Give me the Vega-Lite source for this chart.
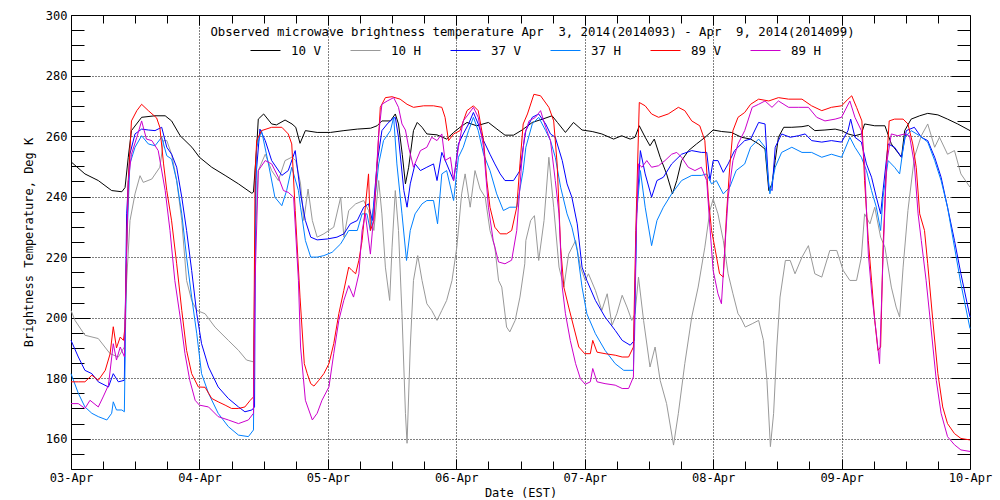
{
  "$schema": "https://vega.github.io/schema/vega-lite/v6.json",
  "width": 899,
  "height": 454,
  "autosize": {"type": "none"},
  "padding": {"left": 71, "top": 15, "right": 30, "bottom": 31},
  "background": "white",
  "title": {
    "text": "Observed microwave brightness temperature Apr\u00a0 3, 2014(2014093) - Apr\u00a0 9, 2014(2014099)",
    "font": "DejaVu Sans Mono",
    "fontSize": 12.3,
    "fontWeight": "normal",
    "color": "black",
    "anchor": "middle",
    "frame": "group",
    "baseline": "alphabetic",
    "offset": -20,
    "dy": 19,
    "dx": 12
  },
  "config": {
    "view": {"stroke": "black", "strokeWidth": 1},
    "axis": {
      "labelFont": "DejaVu Sans Mono",
      "labelFontSize": 12,
      "labelColor": "black",
      "titleFont": "DejaVu Sans Mono",
      "titleFontSize": 12,
      "titleFontWeight": "normal",
      "titleColor": "black",
      "tickColor": "black",
      "domain": false,
      "labelOverlap": false,
      "labelFlush": false
    }
  },
  "data": {
    "values": [
      {"s":"10 V","h":0,"v":251.5},{"s":"10 V","h":2.6,"v":247.5},{"s":"10 V","h":5.1,"v":245.3},{"s":"10 V","h":7.6,"v":242},{"s":"10 V","h":9.5,"v":241.6},{"s":"10 V","h":10.1,"v":243},{"s":"10 V","h":10.7,"v":253},{"s":"10 V","h":11.3,"v":261.8},{"s":"10 V","h":13.2,"v":266.2},{"s":"10 V","h":15.7,"v":266.7},{"s":"10 V","h":17.6,"v":266.7},{"s":"10 V","h":18.8,"v":265},{"s":"10 V","h":20.4,"v":260.1},{"s":"10 V","h":22.6,"v":256.3},{"s":"10 V","h":24,"v":253},{"s":"10 V","h":26.3,"v":249.7},{"s":"10 V","h":28.8,"v":247},{"s":"10 V","h":31.3,"v":244.2},{"s":"10 V","h":33.8,"v":241.1},{"s":"10 V","h":34.1,"v":241.5},{"s":"10 V","h":34.7,"v":256.3},{"s":"10 V","h":35,"v":265.6},{"s":"10 V","h":36,"v":267.3},{"s":"10 V","h":37.5,"v":264},{"s":"10 V","h":38.4,"v":263.7},{"s":"10 V","h":40,"v":265.3},{"s":"10 V","h":41.3,"v":264},{"s":"10 V","h":42,"v":262.9},{"s":"10 V","h":42.8,"v":257.6},{"s":"10 V","h":43.8,"v":261.8},{"s":"10 V","h":46,"v":261.2},{"s":"10 V","h":48.5,"v":261.2},{"s":"10 V","h":51,"v":261.8},{"s":"10 V","h":53.5,"v":262.3},{"s":"10 V","h":56,"v":262.6},{"s":"10 V","h":57.2,"v":263.4},{"s":"10 V","h":58.1,"v":265},{"s":"10 V","h":59.7,"v":265},{"s":"10 V","h":60.6,"v":267.3},{"s":"10 V","h":61.2,"v":264},{"s":"10 V","h":61.9,"v":254},{"s":"10 V","h":62.5,"v":244.2},{"s":"10 V","h":63.1,"v":249.7},{"s":"10 V","h":64,"v":261.8},{"s":"10 V","h":64.7,"v":264.5},{"s":"10 V","h":65.6,"v":262.9},{"s":"10 V","h":66.5,"v":260.7},{"s":"10 V","h":68.4,"v":260.4},{"s":"10 V","h":70.2,"v":259},{"s":"10 V","h":71.5,"v":261.2},{"s":"10 V","h":72.7,"v":262.9},{"s":"10 V","h":74,"v":264.5},{"s":"10 V","h":75.8,"v":263.4},{"s":"10 V","h":78,"v":264.5},{"s":"10 V","h":79.6,"v":262.3},{"s":"10 V","h":81.1,"v":260.3},{"s":"10 V","h":82.7,"v":260.3},{"s":"10 V","h":84.3,"v":262},{"s":"10 V","h":86.2,"v":264.5},{"s":"10 V","h":88.1,"v":265.6},{"s":"10 V","h":89.9,"v":266.7},{"s":"10 V","h":90.9,"v":264.5},{"s":"10 V","h":92.4,"v":261.2},{"s":"10 V","h":93.9,"v":264.5},{"s":"10 V","h":95.5,"v":262},{"s":"10 V","h":97.4,"v":261.5},{"s":"10 V","h":99.2,"v":260.7},{"s":"10 V","h":101.4,"v":259},{"s":"10 V","h":102.9,"v":260.1},{"s":"10 V","h":104.5,"v":259},{"s":"10 V","h":105.4,"v":259.6},{"s":"10 V","h":106.2,"v":263.4},{"s":"10 V","h":107.3,"v":259.6},{"s":"10 V","h":108.2,"v":256.8},{"s":"10 V","h":109,"v":259},{"s":"10 V","h":110.1,"v":253},{"s":"10 V","h":111.3,"v":247.5},{"s":"10 V","h":112.4,"v":240.9},{"s":"10 V","h":113.2,"v":245.3},{"s":"10 V","h":114.1,"v":251.9},{"s":"10 V","h":115.4,"v":255.2},{"s":"10 V","h":116.9,"v":257.4},{"s":"10 V","h":118.5,"v":259.6},{"s":"10 V","h":120,"v":262},{"s":"10 V","h":121.6,"v":261.5},{"s":"10 V","h":123.4,"v":261.2},{"s":"10 V","h":125.3,"v":259.6},{"s":"10 V","h":127,"v":259},{"s":"10 V","h":128.5,"v":257.4},{"s":"10 V","h":129.7,"v":255.7},{"s":"10 V","h":130.4,"v":242},{"s":"10 V","h":131,"v":244.2},{"s":"10 V","h":131.6,"v":251.9},{"s":"10 V","h":132.2,"v":259.6},{"s":"10 V","h":133.2,"v":262.9},{"s":"10 V","h":134.7,"v":262.9},{"s":"10 V","h":136.6,"v":263.1},{"s":"10 V","h":137.8,"v":263.5},{"s":"10 V","h":139,"v":261.8},{"s":"10 V","h":140.9,"v":262},{"s":"10 V","h":142.8,"v":262.3},{"s":"10 V","h":144,"v":261.8},{"s":"10 V","h":145.2,"v":260.7},{"s":"10 V","h":146.5,"v":260.1},{"s":"10 V","h":147.7,"v":260.7},{"s":"10 V","h":148.3,"v":264},{"s":"10 V","h":150.2,"v":263.4},{"s":"10 V","h":152.1,"v":263.4},{"s":"10 V","h":153.3,"v":257.4},{"s":"10 V","h":154.5,"v":254.6},{"s":"10 V","h":155.2,"v":253},{"s":"10 V","h":155.8,"v":261.8},{"s":"10 V","h":157,"v":265.6},{"s":"10 V","h":158.6,"v":266.7},{"s":"10 V","h":160.1,"v":267.5},{"s":"10 V","h":162,"v":267},{"s":"10 V","h":163.8,"v":265.6},{"s":"10 V","h":165.7,"v":264},{"s":"10 V","h":168,"v":261.8},

      {"s":"10 H","h":0,"v":202.4},{"s":"10 H","h":0.75,"v":199.1},{"s":"10 H","h":2.6,"v":194.2},{"s":"10 H","h":5.1,"v":193.1},{"s":"10 H","h":7.3,"v":188.1},{"s":"10 H","h":8.85,"v":187},{"s":"10 H","h":9.97,"v":190.3},{"s":"10 H","h":10.4,"v":212.3},{"s":"10 H","h":11.03,"v":232.1},{"s":"10 H","h":11.96,"v":240.9},{"s":"10 H","h":12.9,"v":246.9},{"s":"10 H","h":13.5,"v":244.7},{"s":"10 H","h":15.1,"v":245.8},{"s":"10 H","h":16.6,"v":249.7},{"s":"10 H","h":17.3,"v":258.5},{"s":"10 H","h":17.9,"v":258.5},{"s":"10 H","h":18.8,"v":254},{"s":"10 H","h":19.75,"v":245.3},{"s":"10 H","h":20.7,"v":232.1},{"s":"10 H","h":21.6,"v":212.3},{"s":"10 H","h":22.55,"v":205.7},{"s":"10 H","h":23.5,"v":202.4},{"s":"10 H","h":25.05,"v":201.3},{"s":"10 H","h":26.9,"v":196.9},{"s":"10 H","h":29.4,"v":192.5},{"s":"10 H","h":31.3,"v":189.2},{"s":"10 H","h":32.8,"v":186},{"s":"10 H","h":34.1,"v":185.4},{"s":"10 H","h":34.4,"v":223.3},{"s":"10 H","h":35,"v":248.6},{"s":"10 H","h":36.3,"v":254},{"s":"10 H","h":37.5,"v":248.6},{"s":"10 H","h":38.75,"v":245.3},{"s":"10 H","h":40,"v":251.9},{"s":"10 H","h":41.25,"v":253},{"s":"10 H","h":42,"v":251.9},{"s":"10 H","h":42.9,"v":244.2},{"s":"10 H","h":43.5,"v":232.1},{"s":"10 H","h":44.3,"v":242.5},{"s":"10 H","h":45.1,"v":232.1},{"s":"10 H","h":46,"v":226.6},{"s":"10 H","h":47.25,"v":227.7},{"s":"10 H","h":49.1,"v":229.9},{"s":"10 H","h":50.4,"v":239.8},{"s":"10 H","h":51,"v":226.6},{"s":"10 H","h":51.9,"v":235.4},{"s":"10 H","h":53.2,"v":237.6},{"s":"10 H","h":54.7,"v":238.7},{"s":"10 H","h":55.6,"v":235.4},{"s":"10 H","h":56.6,"v":228.8},{"s":"10 H","h":57.5,"v":245.3},{"s":"10 H","h":58.1,"v":234.3},{"s":"10 H","h":58.75,"v":216.7},{"s":"10 H","h":59.55,"v":205.7},{"s":"10 H","h":60,"v":223.3},{"s":"10 H","h":60.6,"v":242},{"s":"10 H","h":61.2,"v":228.8},{"s":"10 H","h":61.85,"v":201.3},{"s":"10 H","h":62.5,"v":168.4},{"s":"10 H","h":62.8,"v":158.5},{"s":"10 H","h":63.4,"v":190.3},{"s":"10 H","h":64,"v":212.3},{"s":"10 H","h":64.8,"v":220.5},{"s":"10 H","h":65.6,"v":212.3},{"s":"10 H","h":66.5,"v":204.6},{"s":"10 H","h":67.4,"v":202.4},{"s":"10 H","h":68.4,"v":199.1},{"s":"10 H","h":69.3,"v":202.4},{"s":"10 H","h":70.2,"v":205.7},{"s":"10 H","h":71.2,"v":212.3},{"s":"10 H","h":72.1,"v":223.3},{"s":"10 H","h":73,"v":240.9},{"s":"10 H","h":73.65,"v":247.5},{"s":"10 H","h":74.6,"v":236.5},{"s":"10 H","h":75.5,"v":248.6},{"s":"10 H","h":76.45,"v":242.5},{"s":"10 H","h":77.4,"v":239.8},{"s":"10 H","h":78.3,"v":228.8},{"s":"10 H","h":79.2,"v":223.3},{"s":"10 H","h":79.9,"v":212.3},{"s":"10 H","h":80.5,"v":210.1},{"s":"10 H","h":81.4,"v":196.9},{"s":"10 H","h":82,"v":195.3},{"s":"10 H","h":83,"v":199.1},{"s":"10 H","h":83.9,"v":206.8},{"s":"10 H","h":84.8,"v":217.8},{"s":"10 H","h":85,"v":225.5},{"s":"10 H","h":85.9,"v":232.1},{"s":"10 H","h":86.6,"v":233.7},{"s":"10 H","h":87.4,"v":218.9},{"s":"10 H","h":88.4,"v":232.1},{"s":"10 H","h":89.3,"v":253},{"s":"10 H","h":90.2,"v":236.5},{"s":"10 H","h":91.2,"v":216.7},{"s":"10 H","h":92.1,"v":210.1},{"s":"10 H","h":93,"v":221},{"s":"10 H","h":94.3,"v":225.5},{"s":"10 H","h":95.2,"v":216.7},{"s":"10 H","h":96.1,"v":212.3},{"s":"10 H","h":96.7,"v":214.5},{"s":"10 H","h":98,"v":209},{"s":"10 H","h":99.2,"v":202.4},{"s":"10 H","h":100.2,"v":207.9},{"s":"10 H","h":101.1,"v":197.5},{"s":"10 H","h":102,"v":201.3},{"s":"10 H","h":103,"v":207.4},{"s":"10 H","h":103.9,"v":203.5},{"s":"10 H","h":104.8,"v":199.1},{"s":"10 H","h":105.4,"v":201.3},{"s":"10 H","h":106.05,"v":213.4},{"s":"10 H","h":107,"v":199.1},{"s":"10 H","h":108.2,"v":183.7},{"s":"10 H","h":109.15,"v":190.3},{"s":"10 H","h":110.1,"v":179.3},{"s":"10 H","h":111.3,"v":171.6},{"s":"10 H","h":112.6,"v":157.9},{"s":"10 H","h":113.5,"v":168.4},{"s":"10 H","h":114.7,"v":184.8},{"s":"10 H","h":116,"v":200.2},{"s":"10 H","h":117.2,"v":210.1},{"s":"10 H","h":118.45,"v":223.3},{"s":"10 H","h":119.4,"v":235.4},{"s":"10 H","h":120,"v":239.2},{"s":"10 H","h":120.9,"v":234.3},{"s":"10 H","h":121.9,"v":225.5},{"s":"10 H","h":122.8,"v":214.5},{"s":"10 H","h":123.7,"v":207.9},{"s":"10 H","h":124.65,"v":201.3},{"s":"10 H","h":125.1,"v":200.2},{"s":"10 H","h":126,"v":196.9},{"s":"10 H","h":127.3,"v":198},{"s":"10 H","h":128.5,"v":199.1},{"s":"10 H","h":129.4,"v":192.5},{"s":"10 H","h":130.05,"v":179.3},{"s":"10 H","h":130.7,"v":157.4},{"s":"10 H","h":131.3,"v":168.4},{"s":"10 H","h":131.9,"v":190.3},{"s":"10 H","h":132.5,"v":206.8},{"s":"10 H","h":133.5,"v":218.9},{"s":"10 H","h":134.4,"v":218.9},{"s":"10 H","h":135.3,"v":214.5},{"s":"10 H","h":136.6,"v":220},{"s":"10 H","h":137.8,"v":223.8},{"s":"10 H","h":139,"v":214.5},{"s":"10 H","h":140.3,"v":213.4},{"s":"10 H","h":141.8,"v":222.2},{"s":"10 H","h":143.1,"v":222.2},{"s":"10 H","h":144.3,"v":215.6},{"s":"10 H","h":145.55,"v":212.3},{"s":"10 H","h":146.8,"v":212.3},{"s":"10 H","h":147.7,"v":220},{"s":"10 H","h":148.3,"v":234.3},{"s":"10 H","h":149.3,"v":231},{"s":"10 H","h":150.2,"v":236.5},{"s":"10 H","h":151.3,"v":226.6},{"s":"10 H","h":152.1,"v":223.3},{"s":"10 H","h":153.3,"v":210.1},{"s":"10 H","h":154.2,"v":203.5},{"s":"10 H","h":154.85,"v":200.2},{"s":"10 H","h":155.5,"v":216.7},{"s":"10 H","h":156.4,"v":235.4},{"s":"10 H","h":157.6,"v":253},{"s":"10 H","h":158.9,"v":260.1},{"s":"10 H","h":160.1,"v":264},{"s":"10 H","h":161.4,"v":256.3},{"s":"10 H","h":162.3,"v":259.6},{"s":"10 H","h":163.8,"v":254},{"s":"10 H","h":165.1,"v":255.2},{"s":"10 H","h":166.3,"v":247.5},{"s":"10 H","h":168,"v":243.1},

      {"s":"37 V","h":0,"v":192.5},{"s":"37 V","h":1.37,"v":187},{"s":"37 V","h":2.6,"v":182.6},{"s":"37 V","h":3.9,"v":181.5},{"s":"37 V","h":5.1,"v":178.8},{"s":"37 V","h":7,"v":177.1},{"s":"37 V","h":7.9,"v":181.5},{"s":"37 V","h":8.85,"v":178.8},{"s":"37 V","h":9.97,"v":179.3},{"s":"37 V","h":10.4,"v":234.3},{"s":"37 V","h":11,"v":254},{"s":"37 V","h":11.96,"v":260.7},{"s":"37 V","h":13.2,"v":262.3},{"s":"37 V","h":14.45,"v":262},{"s":"37 V","h":15.7,"v":261.8},{"s":"37 V","h":16.95,"v":262.9},{"s":"37 V","h":17.9,"v":256.3},{"s":"37 V","h":18.8,"v":254},{"s":"37 V","h":19.75,"v":249.7},{"s":"37 V","h":20.7,"v":239.8},{"s":"37 V","h":21.6,"v":228.8},{"s":"37 V","h":22.55,"v":215.6},{"s":"37 V","h":23.5,"v":201.3},{"s":"37 V","h":24.4,"v":191.4},{"s":"37 V","h":25.7,"v":183.7},{"s":"37 V","h":27.5,"v":177.1},{"s":"37 V","h":29.4,"v":173.3},{"s":"37 V","h":31.3,"v":170.5},{"s":"37 V","h":32.5,"v":168.9},{"s":"37 V","h":33.8,"v":169.5},{"s":"37 V","h":34.3,"v":170.5},{"s":"37 V","h":34.5,"v":245.3},{"s":"37 V","h":35.3,"v":262.3},{"s":"37 V","h":36.3,"v":258.5},{"s":"37 V","h":37.5,"v":251.9},{"s":"37 V","h":39.4,"v":247},{"s":"37 V","h":40.6,"v":248.6},{"s":"37 V","h":41.9,"v":255.2},{"s":"37 V","h":42.9,"v":240.9},{"s":"37 V","h":43.8,"v":232.1},{"s":"37 V","h":44.8,"v":226.6},{"s":"37 V","h":46,"v":225.7},{"s":"37 V","h":47.9,"v":226},{"s":"37 V","h":49.7,"v":226.6},{"s":"37 V","h":51,"v":227.7},{"s":"37 V","h":52.2,"v":231},{"s":"37 V","h":53.5,"v":232.1},{"s":"37 V","h":54.7,"v":236.5},{"s":"37 V","h":55.6,"v":237.6},{"s":"37 V","h":56.3,"v":232.1},{"s":"37 V","h":57.2,"v":250.8},{"s":"37 V","h":58.1,"v":261.8},{"s":"37 V","h":59.1,"v":264},{"s":"37 V","h":60,"v":265.6},{"s":"37 V","h":60.6,"v":266.2},{"s":"37 V","h":61.2,"v":259.6},{"s":"37 V","h":62.2,"v":242},{"s":"37 V","h":62.8,"v":236.5},{"s":"37 V","h":63.4,"v":244.2},{"s":"37 V","h":64.3,"v":250.8},{"s":"37 V","h":65.3,"v":248.6},{"s":"37 V","h":66.5,"v":249.7},{"s":"37 V","h":67.75,"v":250.8},{"s":"37 V","h":68.4,"v":245.3},{"s":"37 V","h":69.3,"v":254.6},{"s":"37 V","h":70.2,"v":250.8},{"s":"37 V","h":71.5,"v":245.3},{"s":"37 V","h":72.4,"v":257.4},{"s":"37 V","h":73.3,"v":260.7},{"s":"37 V","h":74.3,"v":264},{"s":"37 V","h":75.2,"v":267.8},{"s":"37 V","h":76.1,"v":264},{"s":"37 V","h":77.1,"v":258.5},{"s":"37 V","h":78.3,"v":254},{"s":"37 V","h":79.2,"v":250.8},{"s":"37 V","h":80.2,"v":247.5},{"s":"37 V","h":81.1,"v":245.3},{"s":"37 V","h":82.7,"v":245.3},{"s":"37 V","h":83.9,"v":248.6},{"s":"37 V","h":84.5,"v":256.3},{"s":"37 V","h":85,"v":261.8},{"s":"37 V","h":86.2,"v":266.2},{"s":"37 V","h":87.4,"v":267.3},{"s":"37 V","h":88.7,"v":264},{"s":"37 V","h":89.6,"v":260.7},{"s":"37 V","h":90.5,"v":259.6},{"s":"37 V","h":91.8,"v":251.9},{"s":"37 V","h":92.7,"v":244.2},{"s":"37 V","h":93.6,"v":239.8},{"s":"37 V","h":94.6,"v":231},{"s":"37 V","h":95.5,"v":216.7},{"s":"37 V","h":96.4,"v":212.3},{"s":"37 V","h":98,"v":205.7},{"s":"37 V","h":99.8,"v":200.2},{"s":"37 V","h":101.7,"v":195.8},{"s":"37 V","h":103,"v":192.5},{"s":"37 V","h":104.5,"v":190.9},{"s":"37 V","h":105.3,"v":192.5},{"s":"37 V","h":105.7,"v":234.3},{"s":"37 V","h":106.4,"v":255.2},{"s":"37 V","h":107.3,"v":247.5},{"s":"37 V","h":108.5,"v":239.8},{"s":"37 V","h":109.5,"v":245.3},{"s":"37 V","h":110.7,"v":246.4},{"s":"37 V","h":112.25,"v":250.8},{"s":"37 V","h":114.1,"v":254},{"s":"37 V","h":116,"v":255.2},{"s":"37 V","h":117.8,"v":254.6},{"s":"37 V","h":118.8,"v":254.6},{"s":"37 V","h":119.4,"v":245.3},{"s":"37 V","h":120,"v":251.9},{"s":"37 V","h":120.9,"v":251.9},{"s":"37 V","h":121.9,"v":248},{"s":"37 V","h":122.8,"v":250.8},{"s":"37 V","h":124,"v":255.2},{"s":"37 V","h":125.9,"v":258.5},{"s":"37 V","h":127,"v":259},{"s":"37 V","h":128.5,"v":264.5},{"s":"37 V","h":129.7,"v":264},{"s":"37 V","h":130.4,"v":243.1},{"s":"37 V","h":131,"v":242},{"s":"37 V","h":131.6,"v":256.3},{"s":"37 V","h":132.8,"v":260.7},{"s":"37 V","h":134.4,"v":259.6},{"s":"37 V","h":135.9,"v":260.1},{"s":"37 V","h":137.2,"v":260.7},{"s":"37 V","h":138.4,"v":258.5},{"s":"37 V","h":140.3,"v":258},{"s":"37 V","h":142.1,"v":258.5},{"s":"37 V","h":144,"v":258},{"s":"37 V","h":145.2,"v":261.8},{"s":"37 V","h":145.7,"v":265.6},{"s":"37 V","h":146.5,"v":259.6},{"s":"37 V","h":147.7,"v":258},{"s":"37 V","h":148.65,"v":250.8},{"s":"37 V","h":149.6,"v":246.4},{"s":"37 V","h":150.5,"v":239.8},{"s":"37 V","h":151.3,"v":234.3},{"s":"37 V","h":151.75,"v":242},{"s":"37 V","h":152.7,"v":257.4},{"s":"37 V","h":153.9,"v":256.3},{"s":"37 V","h":155.2,"v":253},{"s":"37 V","h":156.1,"v":261.8},{"s":"37 V","h":157.6,"v":262.9},{"s":"37 V","h":158.9,"v":259.6},{"s":"37 V","h":160.1,"v":258.5},{"s":"37 V","h":161.4,"v":253},{"s":"37 V","h":162.6,"v":246.4},{"s":"37 V","h":163.8,"v":236.5},{"s":"37 V","h":165.1,"v":225.5},{"s":"37 V","h":166.3,"v":214.5},{"s":"37 V","h":168,"v":200.2},

      {"s":"37 H","h":0,"v":181.5},{"s":"37 H","h":1.37,"v":175},{"s":"37 H","h":2.6,"v":170.5},{"s":"37 H","h":3.9,"v":168.4},{"s":"37 H","h":5.1,"v":167.3},{"s":"37 H","h":6.7,"v":166.2},{"s":"37 H","h":7.6,"v":168.4},{"s":"37 H","h":7.9,"v":172.2},{"s":"37 H","h":8.5,"v":169.5},{"s":"37 H","h":9.5,"v":169.5},{"s":"37 H","h":9.97,"v":168.9},{"s":"37 H","h":10.4,"v":223.3},{"s":"37 H","h":11,"v":250.8},{"s":"37 H","h":11.96,"v":256.3},{"s":"37 H","h":13.2,"v":260.1},{"s":"37 H","h":14.45,"v":257.4},{"s":"37 H","h":15.7,"v":256.8},{"s":"37 H","h":16.95,"v":259.6},{"s":"37 H","h":17.9,"v":253.5},{"s":"37 H","h":18.8,"v":252.4},{"s":"37 H","h":19.75,"v":245.3},{"s":"37 H","h":20.7,"v":234.3},{"s":"37 H","h":21.6,"v":220},{"s":"37 H","h":22.55,"v":206.8},{"s":"37 H","h":23.5,"v":194.7},{"s":"37 H","h":24.4,"v":181.5},{"s":"37 H","h":25.7,"v":175},{"s":"37 H","h":27.5,"v":168.4},{"s":"37 H","h":29.4,"v":164},{"s":"37 H","h":31.3,"v":161.2},{"s":"37 H","h":33.15,"v":160.7},{"s":"37 H","h":34.1,"v":162.9},{"s":"37 H","h":34.4,"v":223.3},{"s":"37 H","h":34.7,"v":256.3},{"s":"37 H","h":35.6,"v":261.8},{"s":"37 H","h":36.9,"v":250.8},{"s":"37 H","h":38.1,"v":239.8},{"s":"37 H","h":39.4,"v":237},{"s":"37 H","h":40.3,"v":242},{"s":"37 H","h":41.25,"v":249.7},{"s":"37 H","h":42.5,"v":242},{"s":"37 H","h":42.9,"v":236.5},{"s":"37 H","h":43.8,"v":225.5},{"s":"37 H","h":44.8,"v":220},{"s":"37 H","h":46,"v":220},{"s":"37 H","h":47.25,"v":220.5},{"s":"37 H","h":48.8,"v":221.6},{"s":"37 H","h":50.4,"v":224.4},{"s":"37 H","h":51.9,"v":228.8},{"s":"37 H","h":53.5,"v":228.8},{"s":"37 H","h":54.4,"v":234.3},{"s":"37 H","h":55.3,"v":234.3},{"s":"37 H","h":55.95,"v":228.8},{"s":"37 H","h":56.9,"v":240.9},{"s":"37 H","h":57.5,"v":250.8},{"s":"37 H","h":58.4,"v":258.5},{"s":"37 H","h":59.7,"v":261.8},{"s":"37 H","h":60.3,"v":266.2},{"s":"37 H","h":60.9,"v":250.8},{"s":"37 H","h":61.85,"v":234.3},{"s":"37 H","h":62.7,"v":218.9},{"s":"37 H","h":63.4,"v":228.8},{"s":"37 H","h":64.3,"v":234.3},{"s":"37 H","h":65.6,"v":237.6},{"s":"37 H","h":66.5,"v":238.7},{"s":"37 H","h":67.75,"v":238.7},{"s":"37 H","h":68.5,"v":231},{"s":"37 H","h":69.3,"v":247.5},{"s":"37 H","h":70.2,"v":248.6},{"s":"37 H","h":71.5,"v":238.7},{"s":"37 H","h":72.4,"v":253},{"s":"37 H","h":73.3,"v":256.3},{"s":"37 H","h":74.3,"v":261.8},{"s":"37 H","h":75.2,"v":266.2},{"s":"37 H","h":76.1,"v":261.8},{"s":"37 H","h":77.1,"v":254},{"s":"37 H","h":78.3,"v":248.6},{"s":"37 H","h":79.55,"v":240.9},{"s":"37 H","h":80.8,"v":235.4},{"s":"37 H","h":82,"v":236.5},{"s":"37 H","h":83.3,"v":236.5},{"s":"37 H","h":84.5,"v":248.6},{"s":"37 H","h":85,"v":256.3},{"s":"37 H","h":86.2,"v":264},{"s":"37 H","h":87.4,"v":266.2},{"s":"37 H","h":88.7,"v":261.8},{"s":"37 H","h":89.6,"v":258.5},{"s":"37 H","h":90.5,"v":253},{"s":"37 H","h":91.5,"v":243.1},{"s":"37 H","h":92.7,"v":234.3},{"s":"37 H","h":93.6,"v":229.9},{"s":"37 H","h":94.6,"v":222.2},{"s":"37 H","h":95.5,"v":210.1},{"s":"37 H","h":96.4,"v":201.3},{"s":"37 H","h":98,"v":194.7},{"s":"37 H","h":99.8,"v":189.2},{"s":"37 H","h":101.7,"v":184.8},{"s":"37 H","h":103.3,"v":182.6},{"s":"37 H","h":105.1,"v":182.6},{"s":"37 H","h":105.7,"v":234.3},{"s":"37 H","h":106.4,"v":248.6},{"s":"37 H","h":107.3,"v":236.5},{"s":"37 H","h":108.5,"v":223.8},{"s":"37 H","h":109.5,"v":232.1},{"s":"37 H","h":110.7,"v":236.5},{"s":"37 H","h":112.25,"v":240.9},{"s":"37 H","h":114.1,"v":245.3},{"s":"37 H","h":116,"v":247},{"s":"37 H","h":117.8,"v":247},{"s":"37 H","h":118.8,"v":247.5},{"s":"37 H","h":119.7,"v":244.2},{"s":"37 H","h":120.6,"v":245.3},{"s":"37 H","h":121.9,"v":240.9},{"s":"37 H","h":123.1,"v":243.1},{"s":"37 H","h":124.3,"v":248.6},{"s":"37 H","h":125.9,"v":250.8},{"s":"37 H","h":127,"v":256.3},{"s":"37 H","h":128.5,"v":259},{"s":"37 H","h":129.7,"v":256.3},{"s":"37 H","h":130.6,"v":240.9},{"s":"37 H","h":131.6,"v":249.7},{"s":"37 H","h":132.8,"v":254.6},{"s":"37 H","h":134.7,"v":256.3},{"s":"37 H","h":136.6,"v":254.6},{"s":"37 H","h":138.4,"v":254.6},{"s":"37 H","h":140.3,"v":253},{"s":"37 H","h":142.1,"v":254},{"s":"37 H","h":144,"v":253},{"s":"37 H","h":145.55,"v":259.6},{"s":"37 H","h":146.5,"v":256.3},{"s":"37 H","h":147.7,"v":253},{"s":"37 H","h":148.65,"v":248.6},{"s":"37 H","h":149.6,"v":242},{"s":"37 H","h":150.5,"v":236.5},{"s":"37 H","h":151.3,"v":228.8},{"s":"37 H","h":151.75,"v":239.8},{"s":"37 H","h":152.7,"v":251.9},{"s":"37 H","h":153.9,"v":249.7},{"s":"37 H","h":154.85,"v":247.5},{"s":"37 H","h":155.8,"v":259.6},{"s":"37 H","h":157,"v":261.8},{"s":"37 H","h":158.6,"v":260.1},{"s":"37 H","h":160.1,"v":258},{"s":"37 H","h":161.4,"v":251.9},{"s":"37 H","h":162.6,"v":245.3},{"s":"37 H","h":163.8,"v":236.5},{"s":"37 H","h":165.1,"v":223.3},{"s":"37 H","h":166.3,"v":211.2},{"s":"37 H","h":168,"v":196.4},

      {"s":"89 V","h":0,"v":178.8},{"s":"89 V","h":1.37,"v":178.8},{"s":"89 V","h":2.6,"v":178.8},{"s":"89 V","h":3.9,"v":181},{"s":"89 V","h":5.1,"v":179.3},{"s":"89 V","h":6.4,"v":182.6},{"s":"89 V","h":7.3,"v":188},{"s":"89 V","h":7.9,"v":197},{"s":"89 V","h":8.5,"v":190},{"s":"89 V","h":9.2,"v":193.6},{"s":"89 V","h":9.8,"v":192.5},{"s":"89 V","h":10.1,"v":197},{"s":"89 V","h":10.4,"v":223},{"s":"89 V","h":10.7,"v":245},{"s":"89 V","h":11.3,"v":265},{"s":"89 V","h":12.3,"v":268.4},{"s":"89 V","h":13.2,"v":270.5},{"s":"89 V","h":14.45,"v":268.4},{"s":"89 V","h":16,"v":266},{"s":"89 V","h":16.6,"v":262.9},{"s":"89 V","h":17.3,"v":250.8},{"s":"89 V","h":17.9,"v":242},{"s":"89 V","h":18.8,"v":232},{"s":"89 V","h":19.75,"v":217.8},{"s":"89 V","h":20.7,"v":202.4},{"s":"89 V","h":21.6,"v":189.2},{"s":"89 V","h":22.55,"v":181.5},{"s":"89 V","h":23.8,"v":177.1},{"s":"89 V","h":25.05,"v":177},{"s":"89 V","h":26.3,"v":173.3},{"s":"89 V","h":27.5,"v":172.2},{"s":"89 V","h":28.8,"v":171.1},{"s":"89 V","h":30,"v":170},{"s":"89 V","h":31.3,"v":170},{"s":"89 V","h":32.5,"v":170.5},{"s":"89 V","h":33.5,"v":172.7},{"s":"89 V","h":34.1,"v":173.8},{"s":"89 V","h":34.4,"v":247.5},{"s":"89 V","h":34.7,"v":258.5},{"s":"89 V","h":35.6,"v":261.8},{"s":"89 V","h":37.5,"v":262.9},{"s":"89 V","h":39.4,"v":262.9},{"s":"89 V","h":40.6,"v":260.7},{"s":"89 V","h":41.25,"v":257.4},{"s":"89 V","h":41.9,"v":235.4},{"s":"89 V","h":42.8,"v":206.8},{"s":"89 V","h":43.6,"v":184.8},{"s":"89 V","h":44.15,"v":181.5},{"s":"89 V","h":44.8,"v":178.2},{"s":"89 V","h":45.4,"v":177.4},{"s":"89 V","h":46.3,"v":179.3},{"s":"89 V","h":47.25,"v":181.5},{"s":"89 V","h":48.2,"v":184.8},{"s":"89 V","h":49.1,"v":191.4},{"s":"89 V","h":50.05,"v":201.3},{"s":"89 V","h":50.98,"v":209},{"s":"89 V","h":51.9,"v":216.7},{"s":"89 V","h":52.5,"v":215.6},{"s":"89 V","h":53.2,"v":214.5},{"s":"89 V","h":53.8,"v":219},{"s":"89 V","h":54.4,"v":225.5},{"s":"89 V","h":55,"v":236.5},{"s":"89 V","h":55.6,"v":247.5},{"s":"89 V","h":55.95,"v":228.8},{"s":"89 V","h":56.6,"v":232},{"s":"89 V","h":57.2,"v":250.8},{"s":"89 V","h":57.8,"v":269.5},{"s":"89 V","h":58.75,"v":272.7},{"s":"89 V","h":59.99,"v":273},{"s":"89 V","h":61.5,"v":272.2},{"s":"89 V","h":62.8,"v":270.5},{"s":"89 V","h":64,"v":269.5},{"s":"89 V","h":65.9,"v":270},{"s":"89 V","h":67.75,"v":270},{"s":"89 V","h":69.3,"v":269.5},{"s":"89 V","h":69.9,"v":266.2},{"s":"89 V","h":70.55,"v":258.5},{"s":"89 V","h":71.5,"v":260.7},{"s":"89 V","h":72.7,"v":261.8},{"s":"89 V","h":74,"v":268.4},{"s":"89 V","h":75.2,"v":270},{"s":"89 V","h":76.1,"v":268.4},{"s":"89 V","h":77.1,"v":258.5},{"s":"89 V","h":77.7,"v":245.3},{"s":"89 V","h":78.3,"v":236.5},{"s":"89 V","h":79.2,"v":229.9},{"s":"89 V","h":80.2,"v":227.7},{"s":"89 V","h":81.4,"v":227.7},{"s":"89 V","h":82.35,"v":228.8},{"s":"89 V","h":83.3,"v":236.5},{"s":"89 V","h":83.9,"v":250.8},{"s":"89 V","h":84.5,"v":264},{"s":"89 V","h":85.3,"v":267.3},{"s":"89 V","h":86.5,"v":273.8},{"s":"89 V","h":87.75,"v":273.3},{"s":"89 V","h":89.3,"v":269.5},{"s":"89 V","h":90.2,"v":265},{"s":"89 V","h":90.85,"v":250.8},{"s":"89 V","h":91.5,"v":223.3},{"s":"89 V","h":92.1,"v":210.1},{"s":"89 V","h":93,"v":203.5},{"s":"89 V","h":93.95,"v":196.9},{"s":"89 V","h":94.9,"v":190.3},{"s":"89 V","h":96,"v":188.1},{"s":"89 V","h":97.05,"v":188.1},{"s":"89 V","h":97.5,"v":192.5},{"s":"89 V","h":98.3,"v":188.6},{"s":"89 V","h":99.8,"v":188.1},{"s":"89 V","h":101.7,"v":187.6},{"s":"89 V","h":103,"v":187},{"s":"89 V","h":104.2,"v":187},{"s":"89 V","h":105.1,"v":190.3},{"s":"89 V","h":105.55,"v":228.8},{"s":"89 V","h":106.2,"v":271.1},{"s":"89 V","h":107.3,"v":270},{"s":"89 V","h":108.5,"v":267.3},{"s":"89 V","h":109.8,"v":266.2},{"s":"89 V","h":111.6,"v":267.3},{"s":"89 V","h":113.5,"v":269.5},{"s":"89 V","h":114.7,"v":268.4},{"s":"89 V","h":116,"v":265},{"s":"89 V","h":117.5,"v":263.4},{"s":"89 V","h":118.45,"v":258.5},{"s":"89 V","h":119.1,"v":239.8},{"s":"89 V","h":119.7,"v":228.8},{"s":"89 V","h":120.3,"v":223.3},{"s":"89 V","h":121.2,"v":214.5},{"s":"89 V","h":121.9,"v":213.4},{"s":"89 V","h":122.5,"v":234.3},{"s":"89 V","h":123.1,"v":249.7},{"s":"89 V","h":123.7,"v":261.8},{"s":"89 V","h":124.65,"v":266.2},{"s":"89 V","h":125.9,"v":267.8},{"s":"89 V","h":127,"v":270.5},{"s":"89 V","h":128.5,"v":272.2},{"s":"89 V","h":130.4,"v":271.6},{"s":"89 V","h":132.2,"v":272.7},{"s":"89 V","h":134.1,"v":272.2},{"s":"89 V","h":136.6,"v":272.2},{"s":"89 V","h":138.4,"v":270},{"s":"89 V","h":140.3,"v":268.4},{"s":"89 V","h":142.1,"v":269.5},{"s":"89 V","h":144,"v":270},{"s":"89 V","h":145.2,"v":272.2},{"s":"89 V","h":145.9,"v":273.3},{"s":"89 V","h":146.8,"v":269.5},{"s":"89 V","h":147.8,"v":265},{"s":"89 V","h":148.3,"v":245.3},{"s":"89 V","h":149,"v":225.5},{"s":"89 V","h":149.6,"v":212.3},{"s":"89 V","h":150.2,"v":199.1},{"s":"89 V","h":150.8,"v":189.2},{"s":"89 V","h":151.3,"v":190.3},{"s":"89 V","h":151.75,"v":223.3},{"s":"89 V","h":152.4,"v":250.8},{"s":"89 V","h":152.9,"v":265},{"s":"89 V","h":153.9,"v":265.6},{"s":"89 V","h":155.5,"v":265.6},{"s":"89 V","h":156.4,"v":264},{"s":"89 V","h":157.3,"v":257.4},{"s":"89 V","h":157.95,"v":249.7},{"s":"89 V","h":158.6,"v":234.3},{"s":"89 V","h":159.5,"v":228.8},{"s":"89 V","h":160.1,"v":217.8},{"s":"89 V","h":161.05,"v":199.1},{"s":"89 V","h":162,"v":181.5},{"s":"89 V","h":162.9,"v":170.5},{"s":"89 V","h":163.8,"v":165},{"s":"89 V","h":165.1,"v":161.7},{"s":"89 V","h":166.3,"v":160.1},{"s":"89 V","h":168,"v":159.6},

      {"s":"89 H","h":0,"v":171.6},{"s":"89 H","h":1.37,"v":171.6},{"s":"89 H","h":2.6,"v":170},{"s":"89 H","h":3.55,"v":172.7},{"s":"89 H","h":5.1,"v":170.5},{"s":"89 H","h":6,"v":173.8},{"s":"89 H","h":7,"v":177.7},{"s":"89 H","h":7.9,"v":191.4},{"s":"89 H","h":8.5,"v":186},{"s":"89 H","h":9.2,"v":190.3},{"s":"89 H","h":10,"v":187},{"s":"89 H","h":10.2,"v":206.8},{"s":"89 H","h":10.7,"v":245},{"s":"89 H","h":11.3,"v":254},{"s":"89 H","h":12.3,"v":259.6},{"s":"89 H","h":13.2,"v":265},{"s":"89 H","h":14.1,"v":259},{"s":"89 H","h":15.1,"v":258.5},{"s":"89 H","h":16.3,"v":255.2},{"s":"89 H","h":17.6,"v":242},{"s":"89 H","h":18.5,"v":228.8},{"s":"89 H","h":19.4,"v":212.3},{"s":"89 H","h":20.4,"v":200.2},{"s":"89 H","h":21.3,"v":188.1},{"s":"89 H","h":22.2,"v":179.3},{"s":"89 H","h":23.2,"v":172.7},{"s":"89 H","h":24,"v":171.1},{"s":"89 H","h":25.7,"v":170.5},{"s":"89 H","h":27.5,"v":167.3},{"s":"89 H","h":29.4,"v":166.2},{"s":"89 H","h":31.3,"v":165},{"s":"89 H","h":33.15,"v":166.2},{"s":"89 H","h":34.1,"v":168.4},{"s":"89 H","h":34.4,"v":212},{"s":"89 H","h":35,"v":248.6},{"s":"89 H","h":36.3,"v":251.9},{"s":"89 H","h":37.5,"v":250.8},{"s":"89 H","h":38.75,"v":246.4},{"s":"89 H","h":39.7,"v":242},{"s":"89 H","h":40.6,"v":241.4},{"s":"89 H","h":41.6,"v":239.8},{"s":"89 H","h":42.5,"v":212.3},{"s":"89 H","h":42.9,"v":190.3},{"s":"89 H","h":43.8,"v":172.7},{"s":"89 H","h":45.1,"v":166.2},{"s":"89 H","h":46,"v":168.4},{"s":"89 H","h":46.9,"v":172.7},{"s":"89 H","h":48.2,"v":177.1},{"s":"89 H","h":49.1,"v":188.1},{"s":"89 H","h":50.05,"v":199.1},{"s":"89 H","h":50.98,"v":205.7},{"s":"89 H","h":51.9,"v":210.6},{"s":"89 H","h":52.8,"v":206.8},{"s":"89 H","h":53.8,"v":214.5},{"s":"89 H","h":54.4,"v":228.8},{"s":"89 H","h":55,"v":234.3},{"s":"89 H","h":55.95,"v":221},{"s":"89 H","h":56.6,"v":234.3},{"s":"89 H","h":57.5,"v":260.7},{"s":"89 H","h":58.1,"v":270.5},{"s":"89 H","h":59.1,"v":271.6},{"s":"89 H","h":60.3,"v":272.7},{"s":"89 H","h":61.2,"v":269.5},{"s":"89 H","h":61.85,"v":264},{"s":"89 H","h":62.5,"v":262},{"s":"89 H","h":63.1,"v":256.3},{"s":"89 H","h":64,"v":249.7},{"s":"89 H","h":65.3,"v":255.2},{"s":"89 H","h":66.5,"v":256.3},{"s":"89 H","h":67.4,"v":259.6},{"s":"89 H","h":68.4,"v":258.5},{"s":"89 H","h":69.3,"v":260.7},{"s":"89 H","h":69.9,"v":251.9},{"s":"89 H","h":70.9,"v":253},{"s":"89 H","h":71.5,"v":245.3},{"s":"89 H","h":72.4,"v":256.3},{"s":"89 H","h":73.3,"v":265},{"s":"89 H","h":74.3,"v":267.3},{"s":"89 H","h":75.2,"v":269.5},{"s":"89 H","h":76.1,"v":266.2},{"s":"89 H","h":77.1,"v":256.3},{"s":"89 H","h":78,"v":236.5},{"s":"89 H","h":78.9,"v":225.5},{"s":"89 H","h":79.9,"v":218.4},{"s":"89 H","h":81.1,"v":217.8},{"s":"89 H","h":82.35,"v":219},{"s":"89 H","h":83.3,"v":228.8},{"s":"89 H","h":84.2,"v":250.8},{"s":"89 H","h":84.8,"v":260.7},{"s":"89 H","h":85.6,"v":265},{"s":"89 H","h":86.8,"v":266.2},{"s":"89 H","h":87.75,"v":268.4},{"s":"89 H","h":88.7,"v":262.9},{"s":"89 H","h":89.6,"v":258.5},{"s":"89 H","h":90.5,"v":245.3},{"s":"89 H","h":91.2,"v":234.3},{"s":"89 H","h":91.8,"v":210.1},{"s":"89 H","h":92.4,"v":201.3},{"s":"89 H","h":93.3,"v":192.5},{"s":"89 H","h":94.3,"v":184.8},{"s":"89 H","h":95.2,"v":179.8},{"s":"89 H","h":96.1,"v":178},{"s":"89 H","h":97.05,"v":178.8},{"s":"89 H","h":97.5,"v":183.2},{"s":"89 H","h":98.3,"v":178.8},{"s":"89 H","h":99.8,"v":178.2},{"s":"89 H","h":101.7,"v":177.7},{"s":"89 H","h":103,"v":176.6},{"s":"89 H","h":104.2,"v":176.6},{"s":"89 H","h":105.1,"v":180.4},{"s":"89 H","h":105.55,"v":223.3},{"s":"89 H","h":106.05,"v":250.8},{"s":"89 H","h":106.7,"v":249.7},{"s":"89 H","h":107.6,"v":251.9},{"s":"89 H","h":108.5,"v":249.7},{"s":"89 H","h":109.8,"v":250.2},{"s":"89 H","h":111,"v":251.9},{"s":"89 H","h":112.25,"v":254},{"s":"89 H","h":113.2,"v":254.6},{"s":"89 H","h":114.1,"v":253},{"s":"89 H","h":115.35,"v":249.7},{"s":"89 H","h":116.6,"v":248.6},{"s":"89 H","h":117.8,"v":249.7},{"s":"89 H","h":118.8,"v":245.3},{"s":"89 H","h":119.4,"v":229.9},{"s":"89 H","h":120,"v":215.6},{"s":"89 H","h":120.9,"v":207.9},{"s":"89 H","h":121.55,"v":204.6},{"s":"89 H","h":122.2,"v":223.3},{"s":"89 H","h":122.8,"v":239.8},{"s":"89 H","h":123.7,"v":251.9},{"s":"89 H","h":124.65,"v":257.4},{"s":"89 H","h":125.9,"v":261.8},{"s":"89 H","h":127.3,"v":269.5},{"s":"89 H","h":128.5,"v":270.5},{"s":"89 H","h":129.7,"v":271.6},{"s":"89 H","h":131,"v":269.5},{"s":"89 H","h":132.2,"v":271.6},{"s":"89 H","h":134.1,"v":269.5},{"s":"89 H","h":135.9,"v":269.5},{"s":"89 H","h":137.8,"v":269.5},{"s":"89 H","h":139.35,"v":266.2},{"s":"89 H","h":140.9,"v":265},{"s":"89 H","h":142.8,"v":265.6},{"s":"89 H","h":144,"v":266.2},{"s":"89 H","h":145.55,"v":271.6},{"s":"89 H","h":146.5,"v":266.2},{"s":"89 H","h":147.7,"v":261.8},{"s":"89 H","h":148.3,"v":250.8},{"s":"89 H","h":149,"v":221},{"s":"89 H","h":149.7,"v":206.8},{"s":"89 H","h":150.5,"v":194.7},{"s":"89 H","h":151.1,"v":184.8},{"s":"89 H","h":151.6,"v":212.3},{"s":"89 H","h":152.4,"v":250.8},{"s":"89 H","h":153.3,"v":260.7},{"s":"89 H","h":154.5,"v":260.1},{"s":"89 H","h":155.8,"v":260.7},{"s":"89 H","h":156.7,"v":260.1},{"s":"89 H","h":157.6,"v":250.8},{"s":"89 H","h":158.3,"v":234.3},{"s":"89 H","h":158.9,"v":225.5},{"s":"89 H","h":159.8,"v":212.3},{"s":"89 H","h":160.7,"v":196.9},{"s":"89 H","h":161.7,"v":179.3},{"s":"89 H","h":162.6,"v":168.4},{"s":"89 H","h":163.8,"v":160.7},{"s":"89 H","h":165.1,"v":158},{"s":"89 H","h":166.3,"v":156.3},{"s":"89 H","h":168,"v":155.8}
    ]
  },
  "layer": [
    {
      "mark": {"type": "line", "strokeWidth": 1, "interpolate": "linear"},
      "encoding": {
        "x": {
          "field": "h",
          "type": "quantitative",
          "scale": {"domain": [0, 168], "nice": false, "zero": false},
          "axis": {
            "orient": "bottom",
            "values": [0, 24, 48, 72, 96, 120, 144, 168],
            "labelExpr": "['03-Apr','04-Apr','05-Apr','06-Apr','07-Apr','08-Apr','09-Apr','10-Apr'][round(datum.value/24)]",
            "ticks": false,
            "grid": true,
            "gridColor": "black",
            "gridDash": [1, 2],
            "gridOpacity": 1,
            "labelPadding": 3,
            "title": "Date (EST)",
            "titlePadding": 4
          }
        },
        "y": {
          "field": "v",
          "type": "quantitative",
          "scale": {"domain": [150, 300], "nice": false, "zero": false},
          "axis": {
            "orient": "left",
            "values": [160, 180, 200, 220, 240, 260, 280, 300],
            "ticks": false,
            "grid": true,
            "gridColor": "black",
            "gridDash": [1, 2],
            "gridOpacity": 1,
            "labelPadding": 4,
            "title": "Brightness Temperature, Deg K",
            "titlePadding": 10
          }
        },
        "color": {
          "field": "s",
          "type": "nominal",
          "scale": {
            "domain": ["10 V", "10 H", "37 V", "37 H", "89 V", "89 H"],
            "range": ["#000000", "#999999", "#0000ff", "#0080ff", "#ff0000", "#cc00cc"]
          },
          "legend": {
            "title": null,
            "orient": "none",
            "legendX": 179,
            "legendY": 20,
            "direction": "horizontal",
            "columns": 6,
            "symbolType": "stroke",
            "symbolSize": 900,
            "symbolStrokeWidth": 1,
            "labelOffset": 10,
            "columnPadding": 26,
            "labelFont": "DejaVu Sans Mono",
            "labelFontSize": 12.5,
            "labelColor": "black"
          }
        }
      }
    },
    {
      "mark": {"type": "point", "opacity": 0},
      "encoding": {
        "x": {"field": "h", "type": "quantitative", "axis": {"orient": "bottom", "values": [24, 48, 72, 96, 120, 144], "labels": false, "grid": false, "ticks": true, "tickSize": 10, "offset": -10, "tickWidth": 1, "title": null}},
        "y": {"field": "v", "type": "quantitative", "axis": {"orient": "left", "values": [160, 180, 200, 220, 240, 260, 280], "labels": false, "grid": false, "ticks": true, "tickSize": 19, "offset": -19, "tickWidth": 1, "title": null}}
      }
    },
    {
      "mark": {"type": "point", "opacity": 0},
      "encoding": {
        "x": {"field": "h", "type": "quantitative", "axis": {"orient": "bottom", "values": [6, 12, 18, 30, 36, 42, 54, 60, 66, 78, 84, 90, 102, 108, 114, 126, 132, 138, 150, 156, 162], "labels": false, "grid": false, "ticks": true, "tickSize": 8, "offset": -8, "tickWidth": 1, "title": null}},
        "y": {"field": "v", "type": "quantitative", "axis": {"orient": "left", "values": [155, 165, 170, 175, 185, 190, 195, 205, 210, 215, 225, 230, 235, 245, 250, 255, 265, 270, 275, 285, 290, 295], "labels": false, "grid": false, "ticks": true, "tickSize": 13, "offset": -13, "tickWidth": 1, "title": null}}
      }
    },
    {
      "mark": {"type": "point", "opacity": 0},
      "encoding": {
        "x": {"field": "h", "type": "quantitative", "axis": {"orient": "top", "values": [24, 48, 72, 96, 120, 144], "labels": false, "grid": false, "ticks": true, "tickSize": 10, "offset": -10, "tickWidth": 1, "title": null}},
        "y": {"field": "v", "type": "quantitative", "axis": {"orient": "right", "values": [160, 180, 200, 220, 240, 260, 280], "labels": false, "grid": false, "ticks": true, "tickSize": 19, "offset": -19, "tickWidth": 1, "title": null}}
      }
    },
    {
      "mark": {"type": "point", "opacity": 0},
      "encoding": {
        "x": {"field": "h", "type": "quantitative", "axis": {"orient": "top", "values": [6, 12, 18, 30, 36, 42, 54, 60, 66, 78, 84, 90, 102, 108, 114, 126, 132, 138, 150, 156, 162], "labels": false, "grid": false, "ticks": true, "tickSize": 8, "offset": -8, "tickWidth": 1, "title": null}},
        "y": {"field": "v", "type": "quantitative", "axis": {"orient": "right", "values": [155, 165, 170, 175, 185, 190, 195, 205, 210, 215, 225, 230, 235, 245, 250, 255, 265, 270, 275, 285, 290, 295], "labels": false, "grid": false, "ticks": true, "tickSize": 13, "offset": -13, "tickWidth": 1, "title": null}}
      }
    }
  ],
  "resolve": {"axis": {"x": "independent", "y": "independent"}}
}
